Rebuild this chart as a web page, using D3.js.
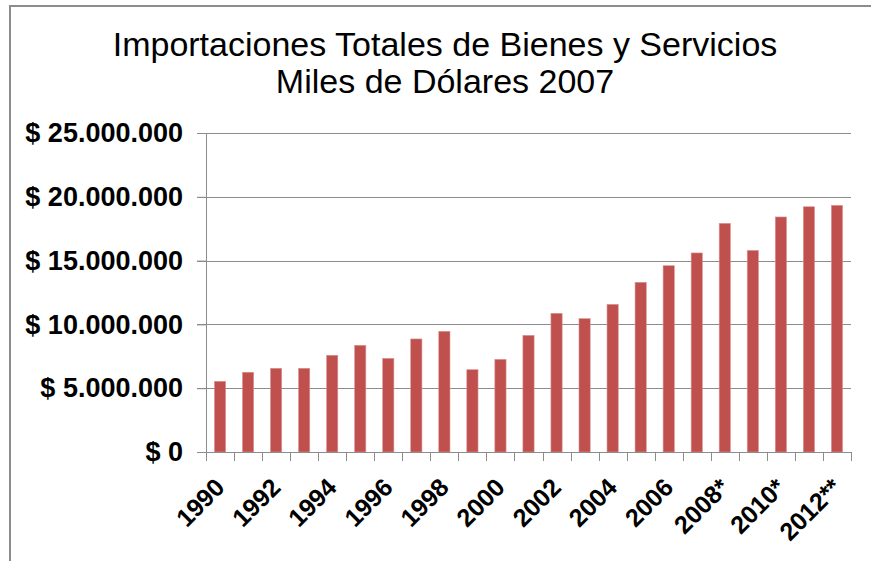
<!DOCTYPE html>
<html>
<head>
<meta charset="utf-8">
<script src="https://cdn.jsdelivr.net/npm/d3@7"></script>
<style>
  body { margin: 0; background: #fff; overflow: hidden; }
  svg { display: block; font-family: "Liberation Sans", Arial, sans-serif; }
</style>
</head>
<body>
<svg id="chart" width="871" height="561"></svg>
<script>
const years = ["1990", "1991", "1992", "1993", "1994", "1995", "1996", "1997", "1998", "1999", "2000", "2001",
  "2002", "2003", "2004", "2005", "2006", "2007", "2008*", "2009", "2010*", "2011", "2012**"];
const imports = [5540000, 6250000, 6560000, 6560000, 7580000, 8360000, 7340000, 8860000, 9460000, 6450000, 7260000, 9140000,
  10870000, 10450000, 11570000, 13300000, 14600000, 15600000, 17920000, 15800000, 18420000, 19220000, 19330000];
const yTicks = [0, 5000000, 10000000, 15000000, 20000000, 25000000];
const titleLines = ["Importaciones Totales de Bienes y Servicios", "Miles de Dólares 2007"];

const data = years.map((y, i) => ({ year: y, value: imports[i] }));

const svg = d3.select("#chart");
const margin = { top: 133, right: 20, bottom: 109, left: 206 };
const innerWidth = 851 - margin.left;
const innerHeight = 452 - margin.top;

const locale = d3.formatLocale({ decimal: ",", thousands: ".", grouping: [3], currency: ["$ ", ""] });
const fmt = locale.format("$,.0f");

// outer frame: only its left and top edges fall inside the picture
svg.append("path")
  .attr("d", "M10,561V6H871")
  .attr("fill", "none")
  .attr("stroke", "#8c8c8c")
  .attr("stroke-width", 2);

// title
svg.selectAll(".title")
  .data(titleLines)
  .enter()
  .append("text")
  .attr("class", "title")
  .attr("x", 445)
  .attr("y", (d, i) => 56 + i * 37)
  .attr("text-anchor", "middle")
  .attr("font-size", 34)
  .text(d => d);

const x = d3.scaleBand()
  .domain(years)
  .range([0, innerWidth])
  .paddingInner(0.6)
  .paddingOuter(0.3);

const y = d3.scaleLinear()
  .domain([0, 25000000])
  .range([innerHeight, 0]);

const g = svg.append("g")
  .attr("transform", `translate(${margin.left},${margin.top})`);

// gridlines
g.append("g")
  .selectAll("line")
  .data(yTicks.filter(d => d > 0))
  .enter()
  .append("line")
  .attr("x1", -9)
  .attr("x2", innerWidth)
  .attr("y1", d => Math.round(y(d)) + 0.5)
  .attr("y2", d => Math.round(y(d)) + 0.5)
  .attr("stroke", "#8c8c8c")
  .attr("stroke-width", 1.2);

// bars
g.selectAll(".bar")
  .data(data)
  .enter()
  .append("rect")
  .attr("class", "bar")
  .attr("x", d => x(d.year))
  .attr("y", d => y(d.value))
  .attr("width", x.bandwidth())
  .attr("height", d => innerHeight - y(d.value))
  .attr("fill", "#c0504d")
  .attr("stroke", "#d99694")
  .attr("stroke-width", 0.6);

// y axis
const yAxis = g.append("g")
  .call(d3.axisLeft(y).tickValues(yTicks).tickFormat(fmt).tickSize(9).tickPadding(14))
  .attr("font-family", null)
  .attr("font-size", 27)
  .attr("font-weight", "bold");
yAxis.select(".domain").attr("stroke", "#8c8c8c");
yAxis.selectAll(".tick line").attr("stroke", "#8c8c8c");
yAxis.selectAll(".tick text").attr("fill", "#000");

// x axis
const xAxisG = g.append("g").attr("transform", `translate(0,${innerHeight})`);
xAxisG.append("line")
  .attr("x1", -9).attr("x2", innerWidth)
  .attr("y1", 0.5).attr("y2", 0.5)
  .attr("stroke", "#8c8c8c");
xAxisG.selectAll(".xtick")
  .data(d3.range(years.length + 1))
  .enter()
  .append("line")
  .attr("x1", i => Math.round(i * x.step()) + 0.5)
  .attr("x2", i => Math.round(i * x.step()) + 0.5)
  .attr("y1", 0).attr("y2", 9)
  .attr("stroke", "#8c8c8c");

xAxisG.selectAll(".xlabel")
  .data(years.filter((d, i) => i % 2 === 0))
  .enter()
  .append("text")
  .attr("class", "xlabel")
  .attr("text-anchor", "end")
  .attr("transform", d => `translate(${x(d) + x.bandwidth() / 2 + 6},${37}) rotate(-45)`)
  .attr("font-size", 25)
  .attr("font-weight", "bold")
  .text(d => d);
</script>
</body>
</html>
